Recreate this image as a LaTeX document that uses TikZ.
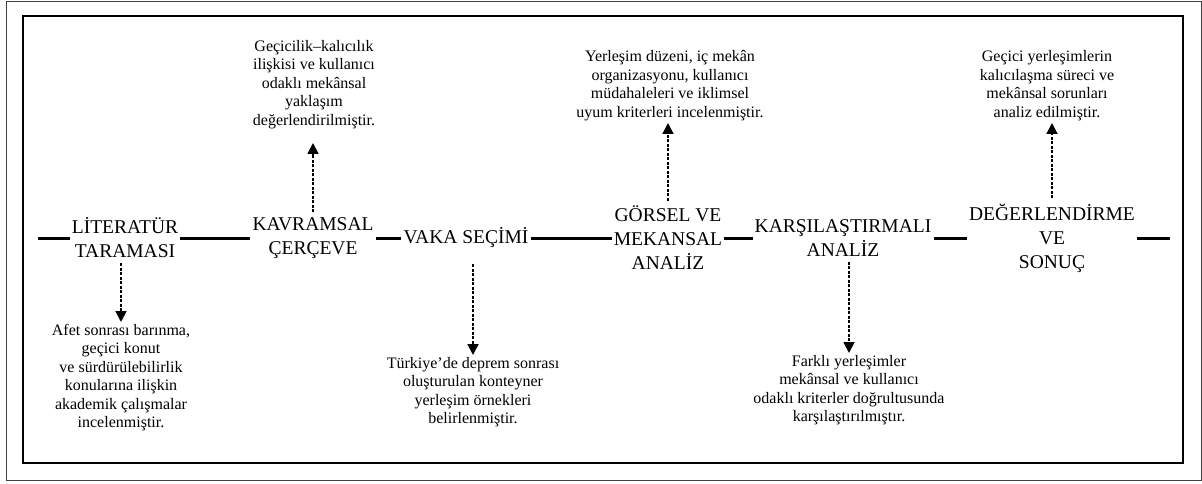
\documentclass[tikz,border=0pt]{standalone}
\usepackage{fontspec}
\setmainfont{Liberation Serif}
\usetikzlibrary{arrows.meta}

\begin{document}
\begin{tikzpicture}[x=1pt,y=-1pt,
	phase/.style={font=\fontsize{19.5}{24}\selectfont,align=center,inner sep=2pt},
	remark/.style={font=\fontsize{16}{18.5}\selectfont,align=center,inner sep=2pt},
	link/.style={line width=3pt},
	probe/.style={line width=1.8pt,dash pattern=on 3pt off 1.5pt,-{Triangle[width=11pt,length=11pt]}}]
	\useasboundingbox (0,0) rectangle (1202,484);
	\draw[line width=0.8pt,black!75] (6,1) rectangle (1201,480);
	\draw[line width=2.5pt] (23,16) rectangle (1183,463);

	\node[phase] (lit) at (125,238) {LİTERATÜR\\TARAMASI};
	\node[phase] (kav) at (313,238) {KAVRAMSAL\\ÇERÇEVE};
	\node[phase] (vaka) at (466,238) {VAKA SEÇİMİ};
	\node[phase] (gor) at (668,238) {GÖRSEL VE\\MEKANSAL\\ANALİZ};
	\node[phase] (kar) at (843,238) {KARŞILAŞTIRMALI\\ANALİZ};
	\node[phase] (deg) at (1052,238) {DEĞERLENDİRME\\VE\\SONUÇ};
	\coordinate (start) at (38,238);
	\coordinate (end) at (1170,238);
	\draw[link] (start) -- (lit) -- (kav) -- (vaka) -- (gor) -- (kar) -- (deg) -- (end);

	\node[remark,anchor=south] (kavnote) at (314,131) {Geçicilik–kalıcılık\\ilişkisi ve kullanıcı\\odaklı mekânsal\\yaklaşım\\değerlendirilmiştir.};
	\node[remark,anchor=south] (gornote) at (670,123) {Yerleşim düzeni, iç mekân\\organizasyonu, kullanıcı\\müdahaleleri ve iklimsel\\uyum kriterleri incelenmiştir.};
	\node[remark,anchor=south] (degnote) at (1047,123) {Geçici yerleşimlerin\\kalıcılaşma süreci ve\\mekânsal sorunları\\analiz edilmiştir.};
	\node[remark,anchor=north] (litnote) at (121,322) {Afet sonrası barınma,\\geçici konut\\ ve sürdürülebilirlik\\konularına ilişkin\\akademik çalışmalar\\incelenmiştir.};
	\node[remark,anchor=north] (vakanote) at (473,355) {Türkiye’de deprem sonrası\\oluşturulan konteyner\\yerleşim örnekleri\\belirlenmiştir.};
	\node[remark,anchor=north] (karnote) at (849,353) {Farklı yerleşimler\\mekânsal ve kullanıcı\\odaklı kriterler doğrultusunda\\karşılaştırılmıştır.};

	\draw[probe,shorten <=3pt,shorten >=12pt] (kav.north) -- (kav.north |- kavnote.south);
	\draw[probe,shorten <=3pt] (gor.north) -- (gor.north |- gornote.south);
	\draw[probe,shorten <=3pt] (deg.north) -- (deg.north |- degnote.south);
	\draw[probe,shorten <=3pt] (litnote.north |- lit.south) -- (litnote.north);
	\draw[probe,shorten <=14pt] (vakanote.north |- vaka.south) -- (vakanote.north);
	\draw[probe,shorten <=3pt] (karnote.north |- kar.south) -- (karnote.north);
\end{tikzpicture}
\end{document}
